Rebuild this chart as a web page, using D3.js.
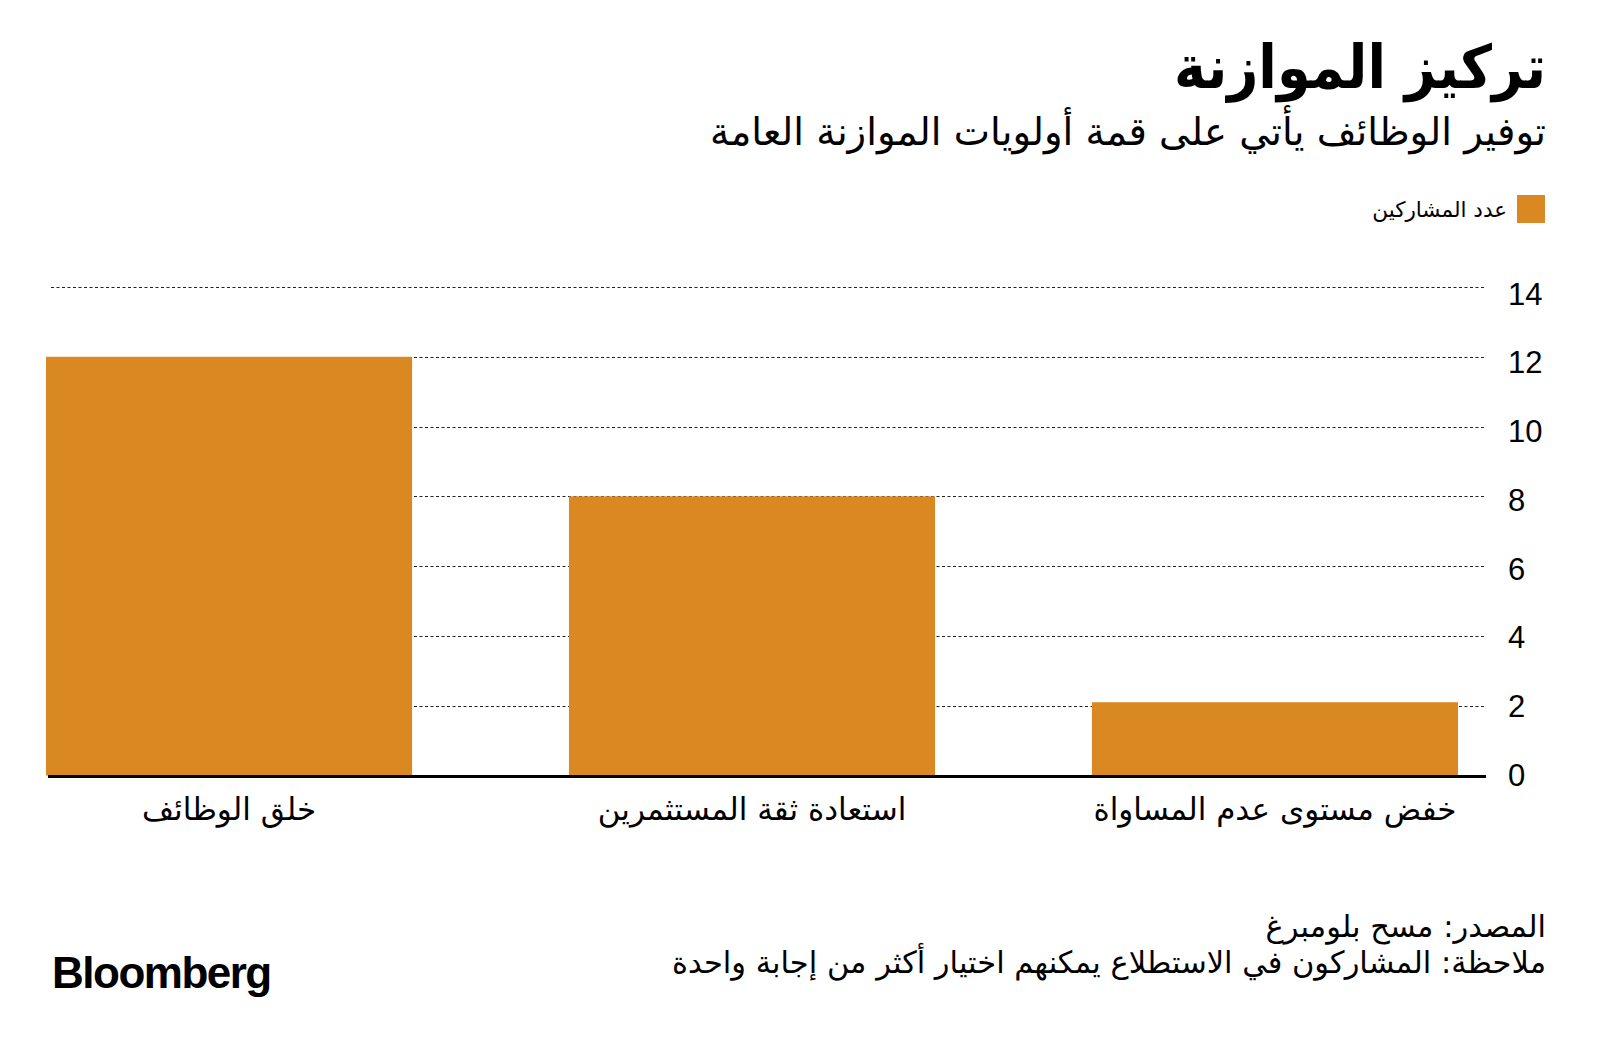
<!DOCTYPE html>
<html><head><meta charset="utf-8">
<script src="https://cdn.jsdelivr.net/npm/d3@7"></script>
<style>
html,body{margin:0;padding:0;background:#fff;}
svg{display:block;}
</style></head>
<body>
<svg id="chart" width="1600" height="1052"></svg>
<script>
const categories = ["خلق الوظائف", "استعادة ثقة المستثمرين", "خفض مستوى عدم المساواة"];
const values = [12, 8, 2.1];
const yTicks = [0, 2, 4, 6, 8, 10, 12, 14];
const seriesName = "عدد المشاركين";
const title = "تركيز الموازنة";
const subtitle = "توفير الوظائف يأتي على قمة أولويات الموازنة العامة";
const sourceText = "المصدر: مسح بلومبرغ";
const noteText = "ملاحظة: المشاركون في الاستطلاع يمكنهم اختيار أكثر من إجابة واحدة";

const arFont = "'DejaVu Sans', 'Noto Sans', sans-serif";
const numFont = "'Liberation Sans', Arial, sans-serif";
const barColor = "#DA8922";

const svg = d3.select("#chart");
const x = d3.scaleBand().domain(categories).range([46, 1458]).paddingInner(0.3).paddingOuter(0);
const y = d3.scaleLinear().domain([0, 14]).range([775.5, 287]);
// tick labels sit on a slightly tighter scale than the gridlines in the reference
const yLabel = d3.scaleLinear().domain([0, 14]).range([774, 293]);

function fit(sel, target, ax) {
  const w = sel.node().getComputedTextLength();
  const s = Math.min(1, target / w);
  sel.attr("transform", `translate(${ax},0) scale(${s},1) translate(${-ax},0)`);
}
function arText(xp, yp, size, txt, weight) {
  return svg.append("text").attr("x", xp).attr("y", yp).attr("text-anchor", "start")
    .attr("direction", "rtl").attr("font-family", arFont).attr("font-weight", weight || "normal")
    .attr("font-size", size).attr("fill", "#000").text(txt);
}

// title
fit(arText(1546, 88, 60, title, "bold"), 372, 1546);
fit(arText(1546, 145, 38.5, subtitle), 839, 1546);

// legend
svg.append("rect").attr("x", 1517).attr("y", 195).attr("width", 28).attr("height", 28).attr("fill", barColor);
fit(arText(1507, 217, 21.5, seriesName), 135, 1507);

// y axis labels
const yAxis = d3.axisRight(yLabel).tickValues(yTicks).tickSize(0).tickPadding(0).tickFormat(d3.format("d"));
const yg = svg.append("g").attr("transform", "translate(1508,0)").call(yAxis);
yg.select(".domain").remove();
yg.selectAll("text").attr("font-family", numFont).attr("font-size", 31).attr("fill", "#000")
  .attr("x", 0).attr("dy", "0.36em");

// gridlines
const grid = svg.append("g");
grid.selectAll("line").data(yTicks.filter(d => d > 0)).join("line")
  .attr("x1", 51).attr("x2", 1486)
  .attr("y1", d => Math.round(y(d)) + 0.5).attr("y2", d => Math.round(y(d)) + 0.5)
  .attr("stroke", "#222").attr("stroke-width", 1.2).attr("stroke-dasharray", "3,2.5");

// bars
svg.append("g").selectAll("rect").data(categories).join("rect")
  .attr("x", d => x(d)).attr("width", x.bandwidth())
  .attr("y", (d, i) => y(values[i])).attr("height", (d, i) => y(0) - y(values[i]))
  .attr("fill", barColor);

// baseline
svg.append("line").attr("x1", 48).attr("x2", 1486).attr("y1", 776.5).attr("y2", 776.5)
  .attr("stroke", "#000").attr("stroke-width", 3);

// x axis labels
const xAxis = d3.axisBottom(x).tickSize(0).tickPadding(0);
const xg = svg.append("g").attr("transform", "translate(0,820)").call(xAxis);
xg.select(".domain").remove();
xg.selectAll("text").attr("font-family", arFont).attr("font-size", 31).attr("fill", "#000")
  .attr("dy", 0).attr("y", 0);

// footer
fit(arText(1546, 937, 30.5, sourceText), 281, 1546);
fit(arText(1546, 973, 30.5, noteText), 877, 1546);

svg.append("text").attr("x", 52).attr("y", 988).attr("font-family", numFont)
  .attr("font-weight", "bold").attr("font-size", 44).attr("letter-spacing", -1.5)
  .attr("fill", "#000").text("Bloomberg");
</script>
</body></html>
